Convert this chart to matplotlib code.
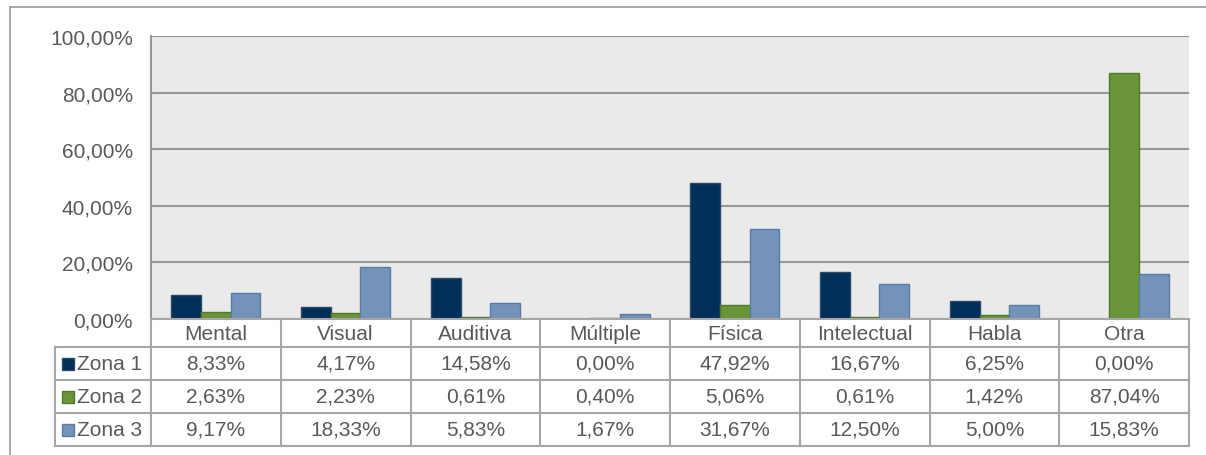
import numpy as np
import matplotlib
matplotlib.use("Agg")
import matplotlib.pyplot as plt
from matplotlib.lines import Line2D
from matplotlib.patches import Rectangle

plt.rcParams['font.family'] = ['Liberation Sans', 'DejaVu Sans']

categorias = ['Mental', 'Visual', 'Auditiva', 'Múltiple', 'Física', 'Intelectual', 'Habla', 'Otra']
series = ['Zona 1', 'Zona 2', 'Zona 3']
zona1 = [8.33, 4.17, 14.58, 0.00, 47.92, 16.67, 6.25, 0.00]
zona2 = [2.63, 2.23, 0.61, 0.40, 5.06, 0.61, 1.42, 87.04]
zona3 = [9.17, 18.33, 5.83, 1.67, 31.67, 12.50, 5.00, 15.83]
yticks = [0, 20, 40, 60, 80, 100]

colores = ['#00305A', '#6A9438', '#7393BA']
bordes = ['#2C4A68', '#4E7A2A', '#5A7CA4']
txt = '#595959'
linea = '#A6A6A6'

W, H = 1206, 456
fig = plt.figure(figsize=(W / 100, H / 100), dpi=100)

# marco exterior del grafico
fig.add_artist(Line2D([10 / W, 1], [1 - 8 / H, 1 - 8 / H], color='#9A9A9A', lw=1.2))
fig.add_artist(Line2D([10 / W, 10 / W], [0, 1 - 8 / H], color='#9A9A9A', lw=1.2))

# area de barras
x0, x1 = 151, 1189
ytop, ybot = 37, 320
ax = fig.add_axes([x0 / W, 1 - ybot / H, (x1 - x0) / W, (ybot - ytop) / H])
ax.set_facecolor('#E9EAE9')
x = np.arange(len(categorias))
ancho = 0.229
for i, vals in enumerate([zona1, zona2, zona3]):
    ax.bar(x + (i - 1) * ancho, vals, ancho, color=colores[i], edgecolor=bordes[i],
           linewidth=1.0, zorder=3)
ax.set_xlim(-0.5, len(categorias) - 0.5)
ax.set_ylim(0, 100)
ax.set_yticks(yticks)
ax.set_yticklabels(['{:.2f}%'.format(v).replace('.', ',') for v in yticks],
                   fontsize=15, color=txt)
ax.tick_params(axis='y', length=0, pad=13)
ax.set_xticks([])
ax.yaxis.grid(True, color='#969696', lw=1.5, zorder=1)
for s in ['top', 'right', 'bottom']:
    ax.spines[s].set_visible(False)
ax.spines['left'].set_color('#969696')
ax.spines['left'].set_linewidth(1.5)

# tabla de datos
px = (x1 - x0) / len(categorias)
tl = 55
filas = [28, 33, 33, 33]
tb = ybot + sum(filas)
tax = fig.add_axes([tl / W, 1 - tb / H, (x1 - tl) / W, (tb - ybot) / H])
izq = -0.5 - (x0 - tl) / px
tax.set_xlim(izq, len(categorias) - 0.5)
tax.set_ylim(sum(filas), 0)
tax.axis('off')
lim = np.concatenate([[0], np.cumsum(filas)])

kw = dict(color=linea, lw=1.5, clip_on=False)
tax.plot([-0.5, len(categorias) - 0.5], [lim[0], lim[0]], **kw)
for yv in lim[1:]:
    tax.plot([izq, len(categorias) - 0.5], [yv, yv], **kw)
for k in range(len(categorias) + 1):
    tax.plot([k - 0.5, k - 0.5], [lim[0], lim[-1]], **kw)
tax.plot([izq, izq], [lim[1], lim[-1]], **kw)

for j, c in enumerate(categorias):
    tax.text(j, (lim[0] + lim[1]) / 2, c, ha='center', va='center', fontsize=15, color=txt)

for i, vals in enumerate([zona1, zona2, zona3]):
    yc = (lim[i + 1] + lim[i + 2]) / 2
    for j, v in enumerate(vals):
        tax.text(j, yc, '{:.2f}%'.format(v).replace('.', ','), ha='center', va='center',
                 fontsize=15, color=txt)
    sq = 12 / px
    tax.add_patch(Rectangle((izq + 7 / px, yc - 6), sq, 12, facecolor=colores[i],
                            edgecolor=bordes[i], lw=1.0, clip_on=False))
    tax.text(izq + 22 / px, yc, series[i], ha='left', va='center', fontsize=15, color=txt)

fig.savefig('out.png', dpi=100)
